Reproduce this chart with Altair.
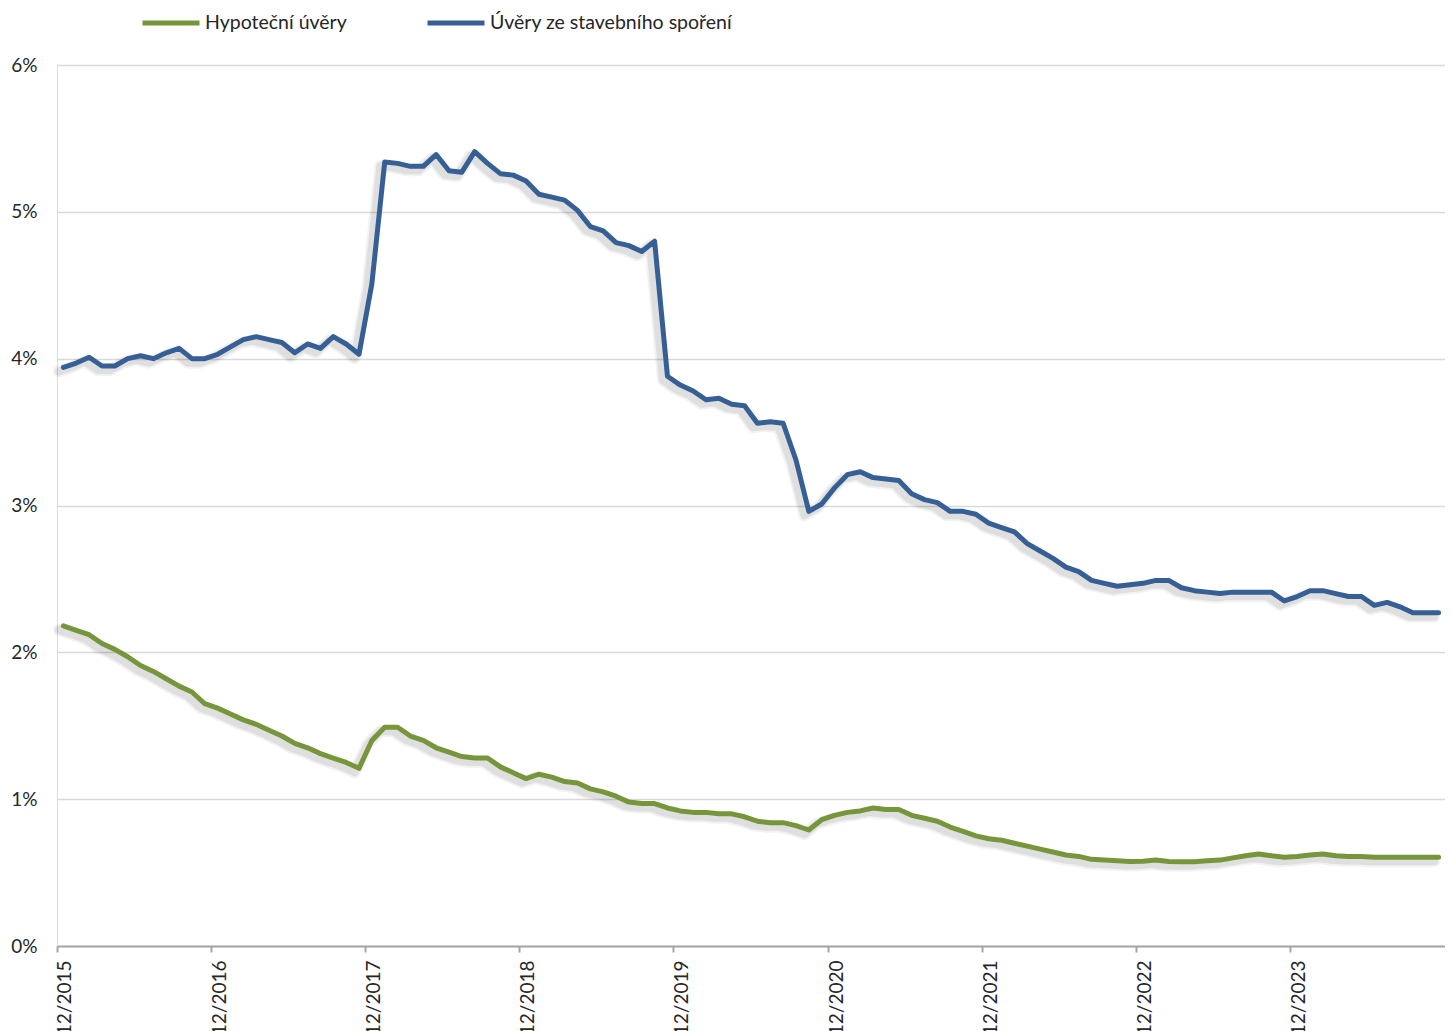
import altair as alt
import pandas as pd

# Month categories: 12/2015 ... 11/2024
months = []
y, m = 2015, 12
for _ in range(108):
    months.append(f"{m:02d}/{y}")
    m += 1
    if m > 12:
        m = 1
        y += 1

hypo = [
    2.18, 2.15, 2.12, 2.06, 2.02, 1.97, 1.91, 1.87, 1.82, 1.77, 1.73, 1.65,
    1.62, 1.58, 1.54, 1.51, 1.47, 1.43, 1.38, 1.35, 1.31, 1.28, 1.25, 1.21,
    1.40, 1.49, 1.49, 1.43, 1.40, 1.35, 1.32, 1.29, 1.28, 1.28, 1.22, 1.18,
    1.14, 1.17, 1.15, 1.12, 1.11, 1.07, 1.05, 1.02, 0.98, 0.97, 0.97, 0.94,
    0.92, 0.91, 0.91, 0.90, 0.90, 0.88, 0.85, 0.84, 0.84, 0.82, 0.79, 0.86,
    0.89, 0.91, 0.92, 0.94, 0.93, 0.93, 0.89, 0.87, 0.85, 0.81, 0.78, 0.75,
    0.73, 0.72, 0.70, 0.68, 0.66, 0.64, 0.62, 0.61, 0.59, 0.585, 0.58, 0.575,
    0.577, 0.585, 0.575, 0.573, 0.573, 0.58, 0.585, 0.60, 0.615, 0.627, 0.614, 0.605,
    0.61, 0.62, 0.627, 0.614, 0.61, 0.61, 0.605, 0.605, 0.605, 0.605, 0.605, 0.605,
]

stav = [
    3.94, 3.97, 4.01, 3.95, 3.95, 4.00, 4.02, 4.00, 4.04, 4.07, 4.00, 4.00,
    4.03, 4.08, 4.13, 4.15, 4.13, 4.11, 4.04, 4.10, 4.07, 4.15, 4.10, 4.03,
    4.51, 5.34, 5.33, 5.31, 5.31, 5.39, 5.28, 5.27, 5.41, 5.33, 5.26, 5.25,
    5.21, 5.12, 5.10, 5.08, 5.01, 4.90, 4.87, 4.79, 4.77, 4.73, 4.80, 3.88,
    3.82, 3.78, 3.72, 3.73, 3.69, 3.68, 3.56, 3.57, 3.56, 3.31, 2.96, 3.01,
    3.12, 3.21, 3.23, 3.19, 3.18, 3.17, 3.08, 3.04, 3.02, 2.96, 2.96, 2.94,
    2.88, 2.85, 2.82, 2.74, 2.69, 2.64, 2.58, 2.55, 2.49, 2.47, 2.45, 2.46,
    2.47, 2.49, 2.49, 2.44, 2.42, 2.41, 2.40, 2.41, 2.41, 2.41, 2.41, 2.35,
    2.38, 2.42, 2.42, 2.40, 2.38, 2.38, 2.32, 2.34, 2.31, 2.27, 2.27, 2.27,
]

series_names = ["Hypoteční úvěry", "Úvěry ze stavebního spoření"]
colors = ["#77963C", "#365F96"]
tick_labels = ["12/2015", "12/2016", "12/2017", "12/2018", "12/2019",
               "12/2020", "12/2021", "12/2022", "12/2023"]
y_ticks = [0, 1, 2, 3, 4, 5, 6]

rows = []
for i, mo in enumerate(months):
    rows.append({"month": mo, "order": i, "series": series_names[0], "value": hypo[i]})
    rows.append({"month": mo, "order": i, "series": series_names[1], "value": stav[i]})
df = pd.DataFrame(rows)

FONT = "Lato"
TXT = "#262626"

x_enc = alt.X(
    "month:O",
    sort=months,
    bandPosition=0.5,
    scale=alt.Scale(type="band", paddingInner=0, paddingOuter=0),
    axis=alt.Axis(
        values=tick_labels,
        title=None,
        bandPosition=0,
        labelAngle=-90,
        labelOffset=2,
        labelFont=FONT,
        labelFontSize=19,
        labelColor=TXT,
        labelPadding=8,
        tickSize=6,
        tickColor="#A6A6A6",
        tickWidth=2,
        domainColor="#A6A6A6",
        domainWidth=2,
        grid=False,
    ),
)

y_enc = alt.Y(
    "value:Q",
    scale=alt.Scale(domain=[0, 6], nice=False),
    axis=alt.Axis(
        values=y_ticks,
        title=None,
        labelExpr="datum.value + '%'",
        labelFont=FONT,
        labelFontSize=19,
        labelColor=TXT,
        labelPadding=20,
        ticks=False,
        domain=False,
        grid=True,
        gridColor="#D9D9D9",
        gridWidth=1.5,
    ),
)

base = alt.Chart(df)

shadow1 = base.mark_line(strokeWidth=12, strokeCap="round", strokeJoin="round", opacity=0.05).encode(
    x=x_enc, y=y_enc, detail="series:N", color=alt.value("#000000"),
    xOffset=alt.value(2), yOffset=alt.value(4),
)
shadow2 = base.mark_line(strokeWidth=8, strokeCap="round", strokeJoin="round", opacity=0.08).encode(
    x=x_enc, y=y_enc, detail="series:N", color=alt.value("#000000"),
    xOffset=alt.value(2), yOffset=alt.value(4),
)

lines = base.mark_line(strokeWidth=5, strokeCap="round", strokeJoin="round").encode(
    x=x_enc,
    y=y_enc,
    color=alt.Color(
        "series:N",
        scale=alt.Scale(domain=series_names, range=colors),
        legend=alt.Legend(
            orient="none",
            legendX=83,
            legendY=-73,
            direction="horizontal",
            title=None,
            symbolType="stroke",
            symbolStrokeWidth=5,
            symbolSize=3249,
            labelFont=FONT,
            labelFontSize=19.5,
            labelColor=TXT,
            labelOffset=3,
            labelLimit=0,
            columnPadding=70,
        ),
    ),
)

chart = (
    alt.layer(shadow1, shadow2, lines)
    .properties(
        width=1388,
        height=881,
        padding={"left": 49, "top": 57, "right": 0, "bottom": 90},
        autosize=alt.AutoSizeParams(type="none"),
    )
    .configure_view(stroke="transparent", strokeOpacity=0)
    .configure_axisX(grid=False)
    .configure_axisY(domain=False, ticks=False)
    .configure(background="white")
)

chart.save("out.html", embed_options={"renderer": "svg", "actions": False})
